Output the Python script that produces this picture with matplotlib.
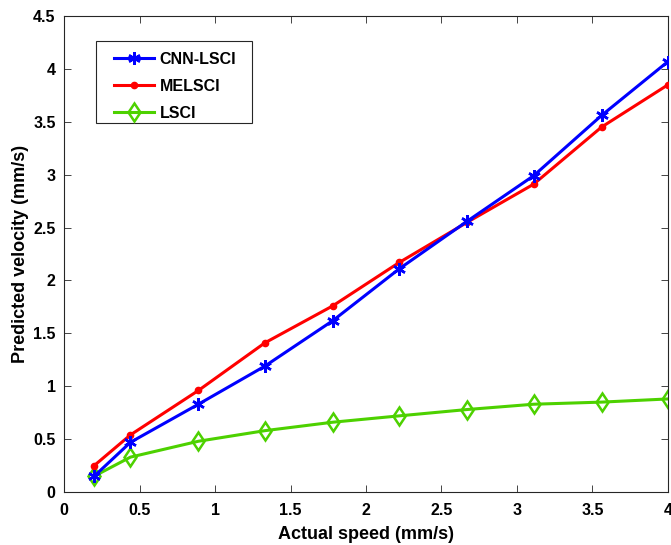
import matplotlib.pyplot as plt
from matplotlib.patches import Rectangle
import numpy as np

plt.rcParams['font.family'] = ['Liberation Sans', 'DejaVu Sans']
plt.rcParams['font.weight'] = 'bold'

speed = [0.2, 0.44, 0.89, 1.33, 1.78, 2.22, 2.67, 3.11, 3.56, 4.0]
cnn_lsci = [0.15, 0.47, 0.83, 1.19, 1.62, 2.11, 2.56, 2.99, 3.56, 4.07]
melsci = [0.25, 0.54, 0.96, 1.41, 1.76, 2.17, 2.55, 2.91, 3.45, 3.85]
lsci = [0.15, 0.33, 0.48, 0.58, 0.66, 0.72, 0.78, 0.83, 0.85, 0.88]

fig = plt.figure(figsize=(6.71, 5.45), dpi=100)
ax = fig.add_axes([0.0954, 0.0972, 0.9001, 0.8734])

ax.plot(speed, cnn_lsci, color='#0000ff', lw=2.2, marker=(6, 2, 0), ms=9,
        mew=1.8, label='CNN-LSCI', zorder=4)
ax.plot(speed, melsci, color='#ff0000', lw=2.2, marker='o', ms=4.5,
        label='MELSCI', zorder=3)
ax.plot(speed, lsci, color='#4dd100', lw=2.2, marker='d', ms=9.5,
        mfc='none', mew=1.8, label='LSCI', zorder=2)

ax.set_xlim(0, 4)
ax.set_ylim(0, 4.5)
ax.set_xticks(np.arange(0, 4.01, 0.5))
ax.set_yticks(np.arange(0, 4.51, 0.5))
ax.set_xticklabels(['0', '0.5', '1', '1.5', '2', '2.5', '3', '3.5', '4'])
ax.set_yticklabels(['0', '0.5', '1', '1.5', '2', '2.5', '3', '3.5', '4', '4.5'])
ax.tick_params(direction='in', top=True, right=True, length=5, width=0.6,
               color='#262626', labelsize=11.5)
ax.tick_params(axis='x', pad=8)
ax.tick_params(axis='y', pad=6)
for lab in ax.get_xticklabels() + ax.get_yticklabels():
    lab.set_fontweight('bold')
for sp in ax.spines.values():
    sp.set_linewidth(0.8)
    sp.set_color('#262626')

ax.set_xlabel('Actual speed (mm/s)', fontsize=13, fontweight='bold', labelpad=6)
ax.set_ylabel('Predicted velocity (mm/s)', fontsize=13, fontweight='bold', labelpad=3)

# legend entries without their own frame; box drawn separately
leg = ax.legend(loc='upper left', bbox_to_anchor=(0.083, 0.925), fontsize=11.5,
                frameon=False, handlelength=2.5, borderpad=0, labelspacing=0.75,
                handletextpad=0.35, borderaxespad=0)
for t in leg.get_texts():
    t.set_fontweight('bold')
ax.add_patch(Rectangle((0.053, 0.9475 - 0.1723), 0.2583, 0.1723,
                       transform=ax.transAxes, fill=True, facecolor='white',
                       edgecolor='#262626', lw=0.8, zorder=5))
leg.set_zorder(6)

fig.savefig('out.png', dpi=100)
